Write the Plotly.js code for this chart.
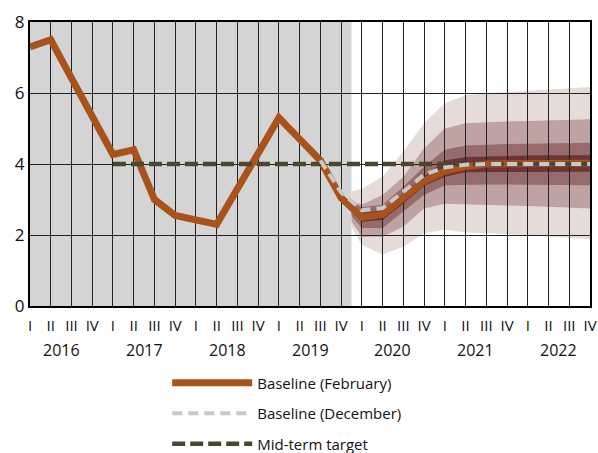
<!DOCTYPE html>
<html>
<head>
<meta charset="utf-8">
<script src="https://cdn.plot.ly/plotly-3.0.1.min.js"></script>
<style>html,body{margin:0;padding:0;background:#fff;}#chart{width:598px;height:453px;}</style>
</head>
<body>
<div id="chart"></div>
<script>
// ---- data ----
const years = [2016, 2017, 2018, 2019, 2020, 2021, 2022];
const quarterNames = ['I', 'II', 'III', 'IV'];
const historyQuarters = 16; // 2016 Q1 .. 2019 Q4 are outturns (grey area)

// Baseline (February), 2016 Q1 .. 2022 Q4
const baselineFeb = [7.3, 7.5, 6.42, 5.35, 4.27, 4.4, 3.0, 2.55, 2.4, 2.3, 3.3, 4.3, 5.3, 4.7,
                     4.1, 3.05, 2.5, 2.58, 3.05, 3.52, 3.8, 3.93, 4.0, 4.0, 4.01, 4.01, 4.02, 4.02];
// Baseline (December), 2019 Q3 .. 2022 Q4
const baselineDecStart = 14;
const baselineDec = [4.1, 3.2, 2.7, 2.76, 3.22, 3.7, 3.9, 3.98, 4.0, 4.0, 4.0, 4.0, 4.0, 4.0];
// Mid-term target, 2017 Q1 .. 2022 Q4
const targetStart = 4;
const target = [4, 4, 4, 4, 4, 4, 4, 4, 4, 4, 4, 4, 4, 4, 4, 4, 4, 4, 4, 4, 4, 4, 4, 4];

// Fan chart bands, 2019 Q4 .. 2022 Q4
const fanStart = 15;
const outerHi = [3.15, 3.3, 3.64, 4.35, 5.15, 5.71, 5.94, 6.0, 6.03, 6.06, 6.1, 6.13, 6.17];
const outerLo = [2.72, 1.72, 1.45, 1.67, 2.05, 2.15, 2.07, 2.05, 2.03, 2.0, 1.97, 1.92, 1.88];
const midHi   = [3.1, 2.85, 3.13, 3.64, 4.44, 5.0, 5.15, 5.18, 5.2, 5.21, 5.22, 5.24, 5.26];
const midLo   = [2.8, 1.95, 1.95, 2.23, 2.75, 2.88, 2.86, 2.85, 2.83, 2.82, 2.8, 2.78, 2.75];
const innerHi = [3.08, 2.78, 2.85, 3.36, 3.92, 4.4, 4.52, 4.55, 4.56, 4.57, 4.58, 4.59, 4.6];
const innerLo = [2.88, 2.2, 2.2, 2.66, 3.13, 3.4, 3.42, 3.42, 3.42, 3.42, 3.41, 3.41, 3.4];
const coreHi  = [3.06, 2.62, 2.7, 3.15, 3.65, 4.1, 4.2, 4.22, 4.23, 4.24, 4.25, 4.25, 4.25];
const coreLo  = [2.95, 2.37, 2.42, 2.89, 3.38, 3.64, 3.77, 3.78, 3.78, 3.78, 3.78, 3.78, 3.78];

// ---- build ----
const nQ = years.length * quarterNames.length;
const idx = (start, n) => Array.from({length: n}, (_, i) => start + i);
const tickVals = idx(0, nQ);
const tickText = tickVals.map(i => quarterNames[i % 4]);
const lastIdx = nQ - 1;
const histEdge = historyQuarters - 0.5;

function band(hi, lo, color) {
  const xs = idx(fanStart, hi.length);
  return {
    x: xs.concat(xs.slice().reverse()),
    y: hi.concat(lo.slice().reverse()),
    xaxis: 'x', yaxis: 'y',
    type: 'scatter', mode: 'lines', fill: 'toself',
    fillcolor: color, line: {width: 0, color: color},
    showlegend: false, hoverinfo: 'skip'
  };
}

const FONT = '"Open Sans", "Noto Sans", sans-serif';

const traces = [
  band(outerHi, outerLo, '#e5dcd9'),
  band(midHi, midLo, '#bfa3a3'),
  band(innerHi, innerLo, '#966b6c'),
  band(coreHi, coreLo, '#6d3437'),
  {
    x: idx(0, baselineFeb.length), y: baselineFeb, xaxis: 'x2', yaxis: 'y2',
    type: 'scatter', mode: 'lines', name: 'Baseline (February)',
    line: {color: '#a8521c', width: 7}, legendgroup: 'a', legendrank: 1
  },
  {
    x: idx(targetStart, target.length), y: target, xaxis: 'x2', yaxis: 'y2',
    type: 'scatter', mode: 'lines', name: 'Mid-term target',
    line: {color: '#48482e', width: 4.5, dash: '13px,5px'}, legendgroup: 'c', legendrank: 3
  },
  {
    x: idx(baselineDecStart, baselineDec.length), y: baselineDec, xaxis: 'x2', yaxis: 'y2',
    type: 'scatter', mode: 'lines', name: 'Baseline (December)',
    line: {color: '#c8c8c8', width: 4, dash: '10px,6px'}, legendgroup: 'b', legendrank: 2
  }
];

const annotations = years.map((yr, k) => ({
  x: k * 4 + 1.5, xref: 'x2', y: -0.155, yref: 'paper',
  text: String(yr), showarrow: false, yanchor: 'middle',
  font: {family: FONT, size: 16, color: '#111'}
}));

const layout = {
  width: 598, height: 453,
  margin: {l: 30, r: 8, t: 22, b: 147, autoexpand: false},
  paper_bgcolor: '#ffffff', plot_bgcolor: 'rgba(0,0,0,0)',
  font: {family: FONT, color: '#111'},
  xaxis: {domain: [histEdge / lastIdx, 1], range: [histEdge, lastIdx], visible: false, anchor: 'y', fixedrange: true},
  yaxis: {range: [0, 8], visible: false, anchor: 'x', fixedrange: true},
  xaxis2: {
    domain: [0, 1], range: [0, lastIdx], anchor: 'y2',
    tickmode: 'array', tickvals: tickVals, ticktext: tickText,
    showgrid: true, gridcolor: '#222', gridwidth: 1,
    showline: true, mirror: true, linecolor: '#000', linewidth: 2,
    ticks: '', zeroline: false, ticklabelstandoff: 5, automargin: false,
    tickfont: {family: FONT, size: 15, color: '#111'}
  },
  yaxis2: {
    domain: [0, 1], range: [0, 8], anchor: 'x2',
    tickmode: 'array', tickvals: [0, 2, 4, 6, 8],
    showgrid: true, gridcolor: '#222', gridwidth: 1,
    showline: true, mirror: true, linecolor: '#000', linewidth: 2,
    ticks: '', zeroline: false, automargin: false,
    tickfont: {family: FONT, size: 17, color: '#111'}
  },
  shapes: [{
    type: 'rect', xref: 'x2', yref: 'paper', x0: -1, x1: histEdge, y0: 0, y1: 1,
    fillcolor: '#d4d4d4', line: {width: 0}, layer: 'below'
  }],
  annotations: annotations,
  showlegend: true,
  legend: {
    x: 0.245, y: -0.213, xanchor: 'left', yanchor: 'top',
    orientation: 'v', traceorder: 'grouped', tracegroupgap: 8,
    itemwidth: 80, font: {family: FONT, size: 15, color: '#111'},
    bgcolor: 'rgba(0,0,0,0)'
  }
};

Plotly.newPlot('chart', traces, layout, {displayModeBar: false, staticPlot: true});
</script>
</body>
</html>
